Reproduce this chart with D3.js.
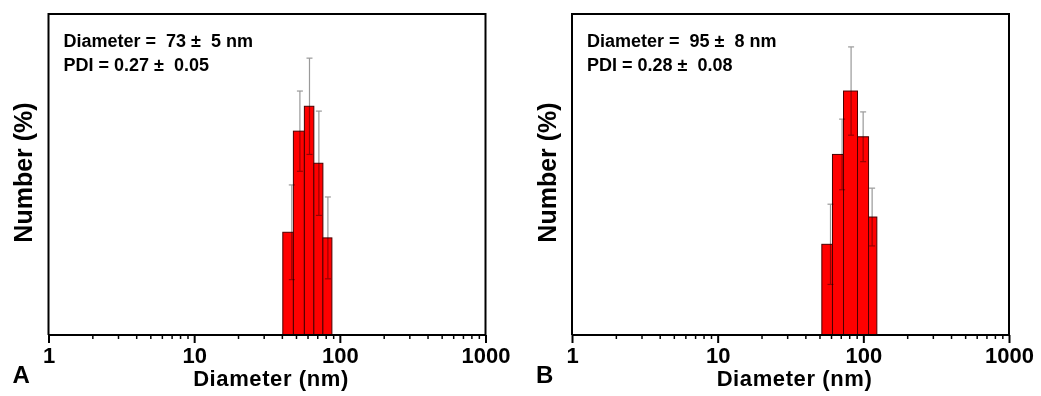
<!DOCTYPE html>
<html>
<head>
<meta charset="utf-8">
<script src="https://cdn.jsdelivr.net/npm/d3@7"></script>
<style>
  body { margin: 0; background: #fff; }
  svg text { font-family: "Liberation Sans", Arial, sans-serif; font-weight: bold; fill: #000; }
</style>
</head>
<body>
<div id="vizcont"></div>
<script>
// data (Number % per size bin, DLS)
var majorTicks = [1, 10, 100, 1000];
var minorTicks = [2,3,4,5,6,7,8,9, 20,30,40,50,60,70,80,90, 200,300,400,500,600,700,800,900];

var binEdgesA = [40.6, 48.0, 57.1, 66.3, 76.5, 88.2];
var diameterA = [46.8, 53.2, 61.9, 71.8, 82.8];
var numberA   = [12.8, 25.4, 28.5, 21.4, 12.1];
var errorA    = [5.9, 5.0, 6.0, 6.5, 5.1];
var noteA     = ["Diameter =  73 \u00b1  5 nm", "PDI = 0.27 \u00b1  0.05"];

var binEdgesB = [51.9, 61.4, 73.1, 91.2, 108.6, 123.8];
var diameterB = [59.5, 71.5, 82.4, 99.7, 114.9];
var numberB   = [11.3, 22.5, 30.4, 24.7, 14.7];
var errorB    = [5.0, 4.4, 5.5, 3.1, 3.6];
var noteB     = ["Diameter =  95 \u00b1  8 nm", "PDI = 0.28 \u00b1  0.08"];

var svg = d3.select("#vizcont")
            .append("svg")
            .attr("width", 1041)
            .attr("height", 396);

var width = 437, height = 321;

function draw_panel(left, letter, edges, diam, vals, errs, note) {
    var g = svg.append("g")
               .attr("transform", "translate(" + left + ",14)");

    var x = d3.scaleLog().domain([1, 1000]).range([0, width]);
    var y = d3.scaleLinear().domain([0, 40]).range([height, 0]);

    var bins = vals.map(function(v, i) {
        return {x0: edges[i], x1: edges[i + 1], d: diam[i], v: v, e: errs[i]};
    });

    // bars
    g.selectAll(".bar")
     .data(bins)
     .enter()
     .append("rect")
     .attr("class", "bar")
     .attr("x", function(d) { return x(d.x0); })
     .attr("width", function(d) { return x(d.x1) - x(d.x0); })
     .attr("y", function(d) { return y(d.v); })
     .attr("height", function(d) { return height - y(d.v); })
     .attr("fill", "#ff0000")
     .attr("stroke", "#4a0000")
     .attr("stroke-width", 1);

    // error bars (multiply so they darken over the red)
    var eb = g.append("g").style("mix-blend-mode", "multiply");
    eb.selectAll(".whisk")
      .data(bins)
      .enter()
      .append("line")
      .attr("x1", function(d) { return x(d.d); })
      .attr("x2", function(d) { return x(d.d); })
      .attr("y1", function(d) { return y(d.v + d.e); })
      .attr("y2", function(d) { return y(d.v - d.e); })
      .attr("stroke", "#999")
      .attr("stroke-width", 1.2);
    [1, -1].forEach(function(s) {
        eb.selectAll(".cap" + s)
          .data(bins)
          .enter()
          .append("line")
          .attr("x1", function(d) { return x(d.d) - 3; })
          .attr("x2", function(d) { return x(d.d) + 3; })
          .attr("y1", function(d) { return y(d.v + s * d.e); })
          .attr("y2", function(d) { return y(d.v + s * d.e); })
          .attr("stroke", "#999")
          .attr("stroke-width", 1.2);
    });

    // frame
    g.append("path")
     .attr("d", "M0," + height + "V0H" + width + "V" + height)
     .attr("fill", "none")
     .attr("stroke", "#000")
     .attr("stroke-width", 2);

    // x axis, minor then major
    var minor = g.append("g")
       .attr("transform", "translate(0," + height + ")")
       .call(d3.axisBottom(x).tickValues(minorTicks).tickSize(4).tickFormat(""));
    minor.select(".domain").remove();
    minor.selectAll("line").attr("stroke-width", 1.5);

    var major = g.append("g")
       .attr("transform", "translate(0," + height + ")")
       .call(d3.axisBottom(x).tickValues(majorTicks).tickSize(8).tickPadding(4)
             .tickFormat(d3.format("d")));
    major.select(".domain").attr("stroke-width", 2).attr("d", "M0,0H" + width);
    major.selectAll("line").attr("stroke-width", 2);
    major.selectAll("text")
         .style("font-size", "22px")
         .style("font-weight", "bold")
         .style("font-family", "'Liberation Sans', Arial, sans-serif")
         .attr("fill", "#000");

    // axis titles
    g.append("text")
     .attr("x", width / 2 + 4)
     .attr("y", height + 51)
     .attr("text-anchor", "middle")
     .style("font-size", "22px")
     .style("letter-spacing", "0.6px")
     .text("Diameter (nm)");

    g.append("text")
     .attr("transform", "translate(-16.5," + (height / 2 - 2) + ") rotate(-90)")
     .attr("text-anchor", "middle")
     .style("font-size", "25px")
     .text("Number (%)");

    g.append("text")
     .attr("x", -36)
     .attr("y", height + 48)
     .style("font-size", "24px")
     .text(letter);

    // annotation
    g.selectAll(".note")
     .data(note)
     .enter()
     .append("text")
     .attr("x", 15)
     .attr("y", function(d, i) { return 33 + i * 24; })
     .style("font-size", "18px")
     .style("white-space", "pre")
     .text(function(d) { return d; });
}

draw_panel(48.5, "A", binEdgesA, diameterA, numberA, errorA, noteA);
draw_panel(572, "B", binEdgesB, diameterB, numberB, errorB, noteB);
</script>
</body>
</html>
